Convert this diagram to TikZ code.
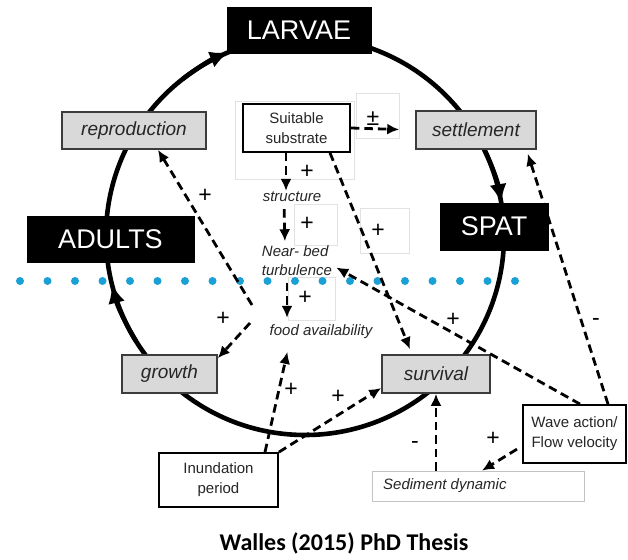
\documentclass[tikz,border=0pt]{standalone}
\usepackage{fontspec}
\setmainfont{Liberation Sans}
\newfontfamily\calibrifont{Carlito}
\usetikzlibrary{arrows.meta}
\definecolor{boxfill}{RGB}{217,217,217}
\definecolor{boxedge}{RGB}{60,60,60}
\definecolor{dotblue}{RGB}{26,160,212}
\definecolor{txtgray}{RGB}{38,38,38}
\definecolor{faint}{RGB}{226,226,226}
\definecolor{sededge}{RGB}{195,195,195}
\begin{document}
\begin{tikzpicture}[x=1pt,y=-1pt,
  stagebox/.style={fill=black,draw=black,text=white,inner sep=0pt,font=\fontsize{27}{30}\selectfont},
  procbox/.style={fill=boxfill,draw=boxedge,line width=1.6pt,inner sep=0pt,text=txtgray,font=\fontsize{19}{22}\selectfont\itshape},
  factorbox/.style={fill=white,draw=black,line width=1.8pt,inner sep=0pt,align=center,text=txtgray,font=\fontsize{15}{20}\selectfont},
  factortxt/.style={inner sep=1pt,align=left,text=txtgray,font=\fontsize{15}{19}\selectfont\itshape},
  signlbl/.style={inner sep=0pt,text=black,font=\fontsize{23}{23}\selectfont},
  darr/.style={line width=2.8pt,dash pattern=on 8.5pt off 5pt,-{Latex[length=12pt,width=11pt]}},
  cycline/.style={line width=4.6pt},
  cycarr/.style={line width=4.6pt,-{Latex[length=19pt,width=17pt]}},
  faintbox/.style={draw=faint,line width=0.8pt},
]
\useasboundingbox (0,0) rectangle (628,559);
\fill[white] (0,0) rectangle (628,559);

% faint text-box frames
\draw[faintbox] (235,101) rectangle (354,179);
\draw[faintbox] (356,93) rectangle (399,138);
\draw[faintbox] (294,204) rectangle (337,245);
\draw[faintbox] (360,208) rectangle (409,253);
\draw[faintbox] (288,277) rectangle (335,320);

% blue dotted line
\foreach \i in {0,...,18} \fill[dotblue] ({20+27.5*\i},281) circle[radius=4pt];

% life cycle
\coordinate (cc) at (305,236);
\draw[cycline] (cc) circle[radius=199pt];
\draw[cycarr] ([shift={(128:199pt)}]cc) arc[start angle=128,end angle=112.5,radius=199pt];
\draw[cycarr] ([shift={(28:199pt)}]cc) arc[start angle=28,end angle=9.5,radius=199pt];
\draw[cycarr] ([shift={(212:199pt)}]cc) arc[start angle=212,end angle=194,radius=199pt];

% stages
\node[stagebox,minimum width=144pt,minimum height=46pt] (larvae) at (299,30) {LARVAE};
\node[stagebox,minimum width=108pt,minimum height=47pt] (spat) at (494,226.5) {SPAT};
\node[stagebox,minimum width=167pt,minimum height=46pt] (adults) at (110.5,239) {ADULTS};

% processes
\node[procbox,minimum width=144pt,minimum height=37pt] (repro) at (134,130.5) {reproduction};
\node[procbox,minimum width=120pt,minimum height=38pt] (settle) at (476,130) {settlement};
\node[procbox,minimum width=95pt,minimum height=38pt] (growth) at (169.5,374) {growth};
\node[procbox,minimum width=108pt,minimum height=38pt] (surv) at (436,374) {survival};

% factors
\node[factorbox,minimum width=107pt,minimum height=48pt] (sub) at (296.5,128) {Suitable\\substrate};
\node[factorbox,minimum width=119pt,minimum height=54pt] (inund) at (218.5,480) {Inundation\\period};
\node[factorbox,minimum width=103pt,minimum height=58pt] (wave) at (574.5,434) {Wave action/\\Flow velocity};
\node[draw=sededge,line width=0.8pt,fill=white,minimum width=212pt,minimum height=30pt,inner sep=0pt] (sed) at (478,486) {};
\node[factortxt,anchor=west] (sedtxt) at (382,486) {Sediment dynamic};

\node[factortxt] (struct) at (292,197) {structure};
\node[factortxt] (nearbed) at (297,260.5) {Near- bed\\turbulence};
\node[factortxt] (food) at (321,332) {food availability};

\coordinate (fg) at (250,323);
\coordinate (fr) at (252,305);

% connectors
\draw[darr,shorten >=16pt] (sub.east) -- (settle.west);
\draw[darr] ([xshift=-10.5pt]sub.south) -- ([xshift=-6pt]struct.north);
\draw[darr,shorten <=6pt,shorten >=3pt] ([xshift=-8pt]struct.south) -- ([xshift=-12pt]nearbed.north);
\draw[darr,shorten <=6pt,shorten >=6pt] ([xshift=-10pt]nearbed.south) -- ([xshift=-34pt]food.north);
\draw[darr] (fg) -- ([yshift=-4pt]growth.north east);
\draw[darr] (fr) -- ([xshift=24pt]repro.south);
\draw[darr,shorten >=12pt] ([xshift=46.5pt]inund.north) -- ([xshift=-31pt]food.south);
\draw[darr] (inund.north east) -- ([yshift=-14pt]surv.west);
\draw[darr] (sed.north -| surv.south) -- (surv.south);
\draw[darr,shorten <=6pt] ([yshift=-12pt]wave.west) -- ([xshift=4pt]sed.north);
\draw[darr] ([xshift=5.5pt]wave.north) -- ([xshift=3pt,yshift=-7pt]nearbed.east);
\draw[darr] ([xshift=33.5pt]wave.north) -- ([xshift=-9pt,yshift=-4pt]settle.south east);
\draw[darr] ([xshift=33.5pt]sub.south) -- ([xshift=-26pt,yshift=5pt]surv.north);

% signs
\node[signlbl] (s1) at (373,119) {±};
\node[signlbl] (s2) at (307,172) {+};
\node[signlbl] (s3) at (307,224) {+};
\node[signlbl] (s4) at (305,298) {+};
\node[signlbl] (s5) at (223,319) {+};
\node[signlbl] (s6) at (205,196) {+};
\node[signlbl] (s7) at (291,390) {+};
\node[signlbl] (s8) at (338,397) {+};
\node[signlbl] (s9) at (493,439) {+};
\node[signlbl] (s10) at (378,231) {+};
\node[signlbl] (s11) at (453,320) {+};
\node[signlbl] (s12) at (415,445) {-};
\node[signlbl] (s13) at (596,322) {-};

% caption
\node[font=\calibrifont\bfseries\fontsize{24}{28}\selectfont,text=black] (title) at (344,543) {Walles (2015) PhD Thesis};
\end{tikzpicture}
\end{document}
